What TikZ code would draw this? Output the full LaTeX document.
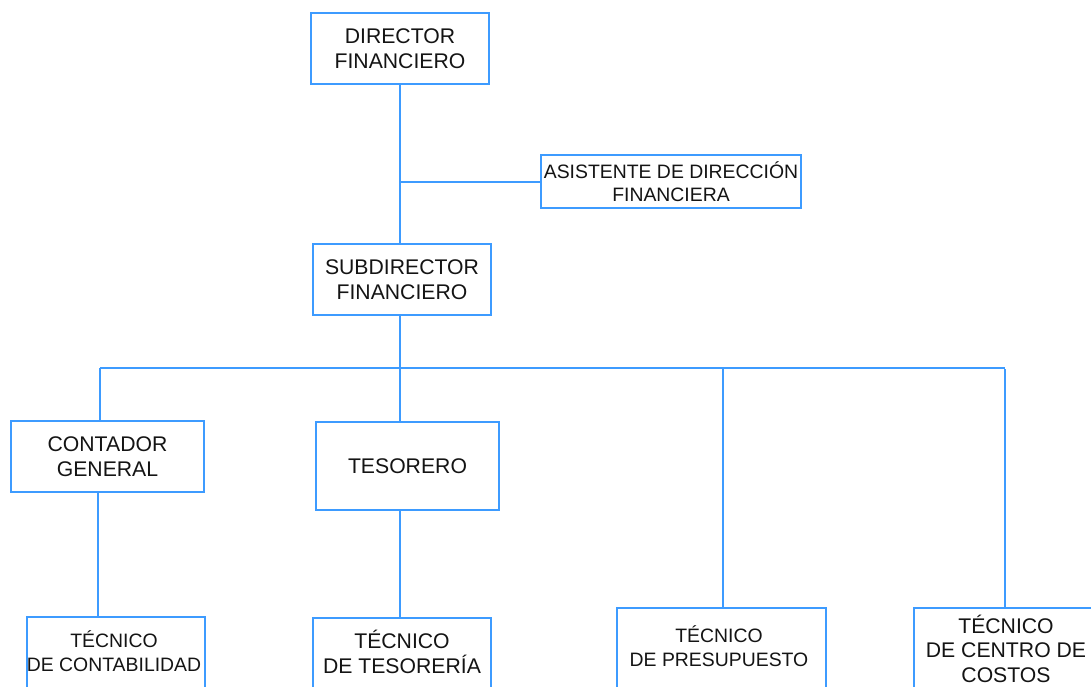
\documentclass[tikz,border=0pt]{standalone}
\usepackage{fontspec}
\setmainfont{Liberation Sans}
\definecolor{orgblue}{RGB}{61,155,255}
\definecolor{txtgray}{RGB}{20,20,20}
\tikzset{
  orgbox/.style={draw=orgblue, line width=2pt, fill=white, inner sep=0pt, align=center, text=txtgray},
  bigtxt/.style={font=\fontsize{21.2}{24.5}\selectfont},
  smalltxt/.style={font=\fontsize{19.4}{23.5}\selectfont},
  txtnode/.style={inner sep=0pt, align=center, text=txtgray},
  conn/.style={draw=orgblue, line width=2pt}
}
\begin{document}
\begin{tikzpicture}[x=1pt,y=-1pt]
\useasboundingbox (0,0) rectangle (1091,687);
\clip (0,0) rectangle (1091,687);
% named bus coordinates
\coordinate (bmid) at (400,368);
\coordinate (bL) at (100,368);
\coordinate (bP) at (723,368);
\coordinate (bR) at (1005,368);
\coordinate (aj) at (400,182);
\coordinate (cdown) at (98,492);

% boxes
\node[orgbox,bigtxt,minimum width=178,minimum height=71] (dir) at (400,48.5) {DIRECTOR\\FINANCIERO};
\node[orgbox,smalltxt,minimum width=260,minimum height=53] (asis) at (671,181.5) {ASISTENTE DE DIRECCIÓN\\FINANCIERA};
\node[orgbox,bigtxt,minimum width=178,minimum height=71] (sub) at (402,279.5) {SUBDIRECTOR\\FINANCIERO};
\node[orgbox,bigtxt,minimum width=193,minimum height=71] (cont) at (107.5,456.5) {CONTADOR\\GENERAL};
\node[orgbox,bigtxt,minimum width=183,minimum height=88] (tes) at (407.5,466) {TESORERO};

\node[orgbox,minimum width=178,minimum height=120,anchor=north] (tcon) at (116,616) {};
\node[orgbox,minimum width=178,minimum height=120,anchor=north] (ttes) at (402,617) {};
\node[orgbox,minimum width=209,minimum height=120,anchor=north] (tpre) at (721.5,607) {};
\node[orgbox,minimum width=184,minimum height=120,anchor=north] (tcos) at (1006,607) {};

\node[txtnode,smalltxt] (tcont) at (114,651) {TÉCNICO\\DE CONTABILIDAD};
\node[txtnode,bigtxt] (ttest) at (402,652) {TÉCNICO\\DE TESORERÍA};
\node[txtnode,smalltxt] (tpret) at (719,646) {TÉCNICO\\DE PRESUPUESTO};
\node[txtnode,bigtxt] (tcost) at (1006,648.5) {TÉCNICO\\DE CENTRO DE\\COSTOS};

% connectors
\draw[conn] (dir.south) -- (dir.south |- sub.north);
\draw[conn] (aj) -- (asis.west |- aj);
\draw[conn] (bmid |- sub.south) -- (bmid);
\draw[conn] (bL) -- (bR);
\draw[conn] (bL) -- (bL |- cont.north);
\draw[conn] (bmid) -- (bmid |- tes.north);
\draw[conn] (bP) -- (bP |- tpre.north);
\draw[conn] ([yshift=-1pt]bR) -- (bR |- tcos.north);
\draw[conn] (cdown) -- (cdown |- tcon.north);
\draw[conn] (bmid |- tes.south) -- (bmid |- ttes.north);
\end{tikzpicture}
\end{document}
